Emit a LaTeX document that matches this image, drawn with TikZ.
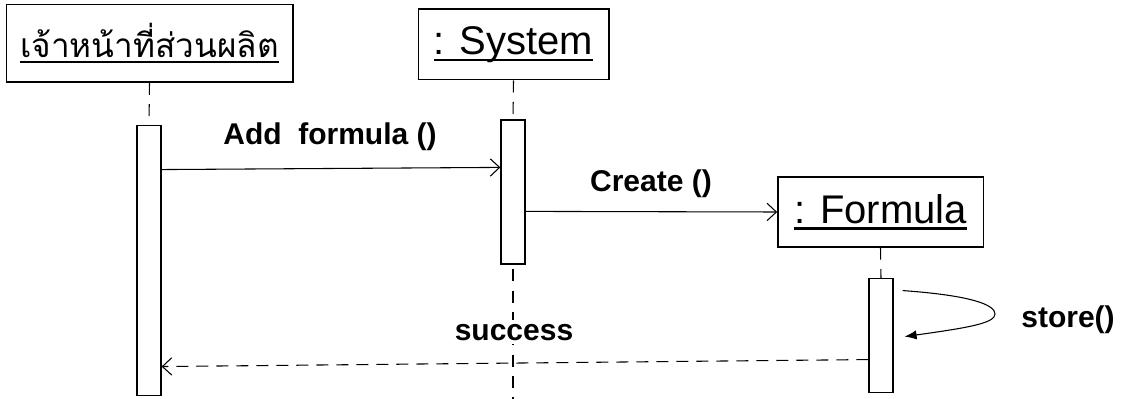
\documentclass[tikz,border=0pt]{standalone}
\usepackage{fontspec}
\setmainfont{Liberation Sans}
\newfontfamily\thaifont[Script=Thai]{Loma}
\usetikzlibrary{arrows.meta,calc}
% underline drawn at a fixed depth, crossing descenders
\newsavebox\ulinebox
\newcommand\ulined[1]{\sbox\ulinebox{#1}\rlap{\rule[-0.17em]{\wd\ulinebox}{0.06em}}\usebox\ulinebox}
\begin{document}
\begin{tikzpicture}[x=0.75pt,y=-0.75pt,
  obj/.style={draw,line width=1pt,inner sep=0pt,align=center},
  act/.style={draw,line width=0.9pt,fill=white,minimum width=18pt,inner sep=0pt},
  life/.style={line width=0.8pt,dash pattern=on 9pt off 7pt},
  msg/.style={line width=0.8pt,-{Straight Barb[length=7pt,width=13pt]}},
  ret/.style={msg,dash pattern=on 9pt off 6pt},
  lbl/.style={anchor=base,inner sep=0pt,font=\fontsize{22.5}{26}\selectfont\bfseries}]
\useasboundingbox (0,0) rectangle (1128,399);

% objects
\node[obj,minimum width=215pt,minimum height=58pt] (officer) at (149.5,43.5)
  {\fontsize{25}{29}\thaifont\ulined{เจ้าหน้าที่ส่วนผลิต}};
\node[obj,minimum width=143pt,minimum height=53pt] (system) at (513.5,44.5)
  {\fontsize{30}{34}\selectfont\ulined{: System}};
\node[obj,minimum width=154pt,minimum height=52.5pt] (formula) at (880.5,212)
  {\fontsize{30}{34}\selectfont\ulined{: Formula}};

% lifelines
\coordinate (act1top) at (149,125);
\coordinate (act2top) at (513,120);
\coordinate (act3top) at (881,278);
\coordinate (sysend) at (513,399);
\draw[life] (officer.south) -- (act1top);
\draw[life] (system.south) -- (act2top);
\draw[life] (formula.south) -- (act3top);
\draw[life] (act2top) -- (sysend);

% activation bars
\node[act,minimum height=203pt] (act1) at (149,260.5) {};
\node[act,minimum height=108pt] (act2) at (513,192) {};
\node[act,minimum height=86pt] (act3) at (881,335.5) {};

% messages
\draw[msg] ($(act1.north east)+(0,45)$) -- ($(act2.north west)+(0,48)$);
\node[lbl] (addlbl) at (330,145) {Add~ formula ()};

\draw[msg] ($(act2.north east)+(0,92)$) -- (formula.west);
\node[lbl] (createlbl) at (651,192) {Create ()};

% self call on the Formula object
\coordinate (selfstart) at ($(act3.north east)+(9,13)$);
\coordinate (selfend) at ($(act3.north east)+(11,59)$);
\draw[line width=0.8pt,-{Latex[length=9pt,width=7pt]}] (selfstart)
  .. controls +(70,5) and +(0,-9) .. (995,314)
  .. controls +(0,9) and +(65,-9) .. (selfend);
\node[lbl] (storelbl) at (1068,327) {store()};

\draw[ret] ($(act3.north west)+(0,82)$) -- ($(act1.north east)+(0,242)$);
\node[lbl,fill=white,inner ysep=3pt,inner xsep=1pt] (successlbl) at (514,340) {success};
\end{tikzpicture}
\end{document}
